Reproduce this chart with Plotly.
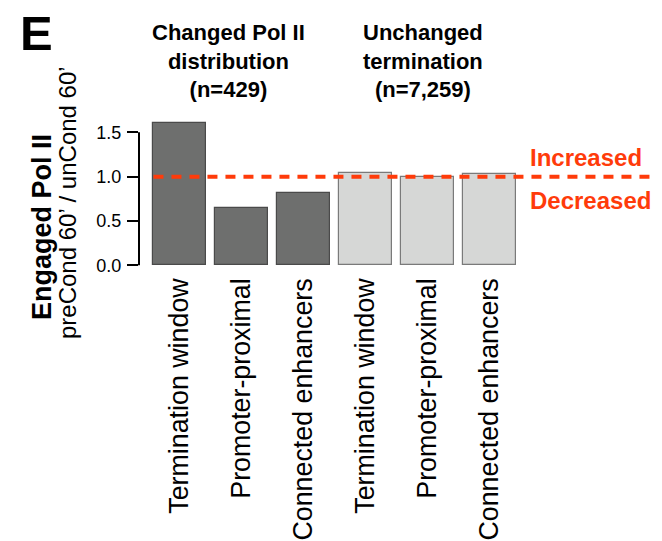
import plotly.graph_objects as go

categories = ["Termination window", "Promoter-proximal", "Connected enhancers",
              "Termination window", "Promoter-proximal", "Connected enhancers"]
values = [1.61, 0.646, 0.82, 1.045, 0.996, 1.034]
groups = ["changed", "changed", "changed", "unchanged", "unchanged", "unchanged"]
group_titles = ["Changed Pol II<br>distribution<br>(n=429)", "Unchanged<br>termination<br>(n=7,259)"]
ytick_vals = [0.0, 0.5, 1.0, 1.5]
ref_level = 1.0

fill = {"changed": "#6e6f6e", "unchanged": "#d6d7d6"}
edge = {"changed": "#4a4a4a", "unchanged": "#7a7a7a"}
xpos = list(range(len(categories)))
RED = "#ff3b0a"
FONT = "Liberation Sans, Arial, Helvetica, sans-serif"

W, H = 662, 541

# plot area in pixels
PL, PR, PT, PB = 139, 654, 100, 270
l, r, t, b = PL, W - PR, PT, H - PB

x0 = -(179.5 - PL) / 62.0
x1 = x0 + (PR - PL) / 62.0
ppu = 88.67
zero_px = 265.3
ybot = -(PB - zero_px) / ppu
ytop = (zero_px - PT) / ppu

fig = go.Figure()
fig.add_trace(go.Bar(
    x=xpos, y=values, width=0.839,
    marker=dict(color=[fill[g] for g in groups],
                line=dict(color=[edge[g] for g in groups], width=1.2)),
    showlegend=False,
))

fig.update_layout(
    width=W, height=H,
    margin=dict(l=l, r=r, t=t, b=b, autoexpand=False),
    plot_bgcolor="white", paper_bgcolor="white",
    font=dict(family=FONT, color="black"),
    bargap=0,
    xaxis=dict(range=[x0, x1], tickvals=xpos, ticktext=categories,
               tickangle=-90, ticks="", showline=False, showgrid=False,
               zeroline=False, tickfont=dict(size=26.8, family=FONT),
               ticklabelstandoff=2, automargin=False),
    yaxis=dict(range=[ybot, ytop], tickvals=ytick_vals, tickformat=".1f",
               ticks="outside", ticklen=11, tickwidth=2, tickcolor="black",
               showline=False, showgrid=False, zeroline=False,
               tickfont=dict(size=18, family=FONT), ticklabelstandoff=2,
               automargin=False),
)

# R-style y axis line (from first to last tick)
fig.add_shape(type="line", xref="paper", yref="y", x0=0, x1=0,
              y0=ytick_vals[0], y1=ytick_vals[-1],
              line=dict(color="black", width=2))

# reference dashed line
fig.add_shape(type="line", xref="x", yref="y", x0=-0.42, x1=x1,
              y0=ref_level, y1=ref_level,
              line=dict(color=RED, width=4, dash="10px,8px"))

ann = []
ann.append(dict(text="<b>E</b>", x=36, y=33, font=dict(size=49, family=FONT)))
for i, gt in enumerate(group_titles):
    cx = 228 if i == 0 else 423
    ann.append(dict(text="<b>" + gt + "</b>", x=cx, y=61,
                    font=dict(size=22, family=FONT), align="center"))
ann.append(dict(text="<b>Increased</b>", x=586, y=157,
                font=dict(size=24, family=FONT, color=RED)))
ann.append(dict(text="<b>Decreased</b>", x=590, y=200,
                font=dict(size=24, family=FONT, color=RED)))
ann.append(dict(text="<b>Engaged Pol II</b>", x=42, y=227, textangle=-90,
                font=dict(size=27, family=FONT)))
ann.append(dict(text="preCond 60’ / unCond 60’", x=67, y=203, textangle=-90,
                font=dict(size=24, family=FONT)))

for a in ann:
    a["showarrow"] = False
    a["xref"] = "paper"
    a["yref"] = "paper"
    a["x"] = (a["x"] - l) / (W - l - r)
    a["y"] = ((H - a["y"]) - b) / (H - t - b)
    a["xanchor"] = "center"
    a["yanchor"] = "middle"
fig.update_layout(annotations=ann)

fig.write_html("out.html", config={"displayModeBar": False},
               post_script="document.body.style.margin='0';document.body.style.overflow='hidden';")
